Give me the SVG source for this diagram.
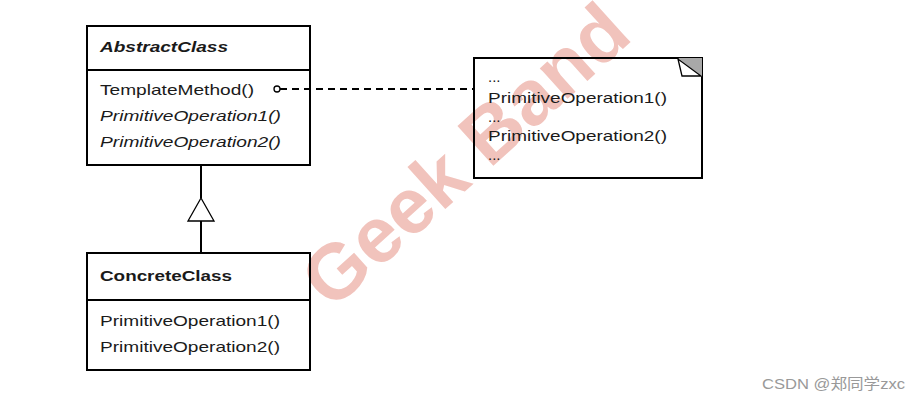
<svg xmlns="http://www.w3.org/2000/svg" width="921" height="401" viewBox="0 0 921 401">
<style>
.box{fill:none;stroke:#000;stroke-width:2}
.t{font-family:"Liberation Sans",Arial,sans-serif;font-size:15px;fill:#1a1a1a}
.b{font-weight:bold}
.i{font-style:italic}
.wm{font-family:"Liberation Sans",Arial,sans-serif;font-size:78px;font-weight:bold;fill:#f1c3bc}
</style>
<rect width="921" height="401" fill="#fff"/>
<text class="wm" text-anchor="middle" transform="translate(483,175) rotate(-42)">Geek Band</text>
<g id="connectors">
<line x1="280" y1="89" x2="474" y2="89" stroke="#000" stroke-width="2" stroke-dasharray="7,5"/>
<circle cx="277" cy="89" r="3" fill="#fff" stroke="#000" stroke-width="1.3"/>
<line x1="201" y1="165" x2="201" y2="198" stroke="#000" stroke-width="2"/>
<polygon points="201,198 214,221 188,221" fill="#fff" stroke="#000" stroke-width="1.3"/>
<line x1="201" y1="221" x2="201" y2="253" stroke="#000" stroke-width="2"/>
</g>
<g id="AbstractClass">
<rect class="box" x="87" y="26" width="223" height="139"/>
<line x1="87" y1="70" x2="310" y2="70" stroke="#000" stroke-width="2"/>
<text class="t b i" x="100" y="52" textLength="128" lengthAdjust="spacingAndGlyphs">AbstractClass</text>
<text class="t" x="100" y="95" textLength="154" lengthAdjust="spacingAndGlyphs">TemplateMethod()</text>
<text class="t i" x="100" y="121" textLength="181" lengthAdjust="spacingAndGlyphs">PrimitiveOperation1()</text>
<text class="t i" x="100" y="147" textLength="181" lengthAdjust="spacingAndGlyphs">PrimitiveOperation2()</text>
</g>
<g id="ConcreteClass">
<rect class="box" x="87" y="253" width="223" height="117"/>
<line x1="87" y1="300" x2="310" y2="300" stroke="#000" stroke-width="2"/>
<text class="t b" x="100" y="281" textLength="132" lengthAdjust="spacingAndGlyphs">ConcreteClass</text>
<text class="t" x="100" y="326" textLength="180" lengthAdjust="spacingAndGlyphs">PrimitiveOperation1()</text>
<text class="t" x="100" y="352" textLength="180" lengthAdjust="spacingAndGlyphs">PrimitiveOperation2()</text>
</g>
<g id="Note">
<rect class="box" x="474" y="58" width="228" height="120"/>
<polygon points="678,58 702,58 702,77" fill="#a8a8a8"/>
<polygon points="678,59 682,76 701,76" fill="#fff" stroke="#000" stroke-width="1.3"/>
<text class="t" x="488" y="82">...</text>
<text class="t" x="488" y="103" textLength="179" lengthAdjust="spacingAndGlyphs">PrimitiveOperation1()</text>
<text class="t" x="488" y="122">...</text>
<text class="t" x="488" y="141" textLength="179" lengthAdjust="spacingAndGlyphs">PrimitiveOperation2()</text>
<text class="t" x="488" y="160">...</text>
</g>
<text x="762" y="389" textLength="143" lengthAdjust="spacingAndGlyphs" style="font-family:'Liberation Sans','Noto Sans CJK SC',sans-serif;font-size:15px;fill:#999">CSDN @郑同学zxc</text>
</svg>
